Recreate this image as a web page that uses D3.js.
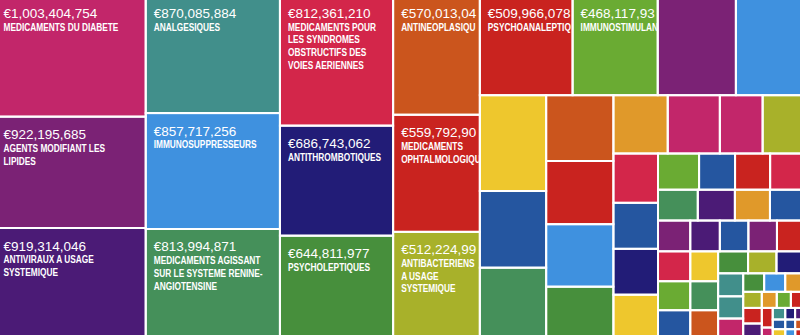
<!DOCTYPE html>
<html>
<head>
<meta charset="utf-8">
<script src="https://cdn.jsdelivr.net/npm/d3@7"></script>
<style>
html,body{margin:0;padding:0;background:#fff;overflow:hidden}
svg{display:block}
.val{font-family:"Liberation Sans",Arial,sans-serif;font-size:13.5px;fill:#fff}
.nm{font-family:"Liberation Sans",Arial,sans-serif;font-weight:bold;font-size:10.8px;fill:#fff}
</style>
</head>
<body>
<svg id="chart" width="800" height="335"></svg>
<script>
// ---- data ----
const names = [
  "MEDICAMENTS DU DIABETE",
  "AGENTS MODIFIANT LES LIPIDES",
  "ANTIVIRAUX A USAGE SYSTEMIQUE",
  "ANALGESIQUES",
  "IMMUNOSUPPRESSEURS",
  "MEDICAMENTS AGISSANT SUR LE SYSTEME RENINE-ANGIOTENSINE",
  "MEDICAMENTS POUR LES SYNDROMES OBSTRUCTIFS DES VOIES AERIENNES",
  "ANTITHROMBOTIQUES",
  "PSYCHOLEPTIQUES",
  "ANTINEOPLASIQUES",
  "MEDICAMENTS OPHTALMOLOGIQUES",
  "ANTIBACTERIENS A USAGE SYSTEMIQUE",
  "PSYCHOANALEPTIQUES",
  "IMMUNOSTIMULANTS",
  "","","","","","","","","","","","","","","","","","","","","","","","","","","","","","","",
  "","","","","","","","","","","","","","","","","","","","","","","","","","","","","","",""
];
const values = [
  1003404754, 922195685, 919314046, 870085884, 857717256, 813994871,
  812361210, 686743062, 644811977, 570013045, 559792905, 512224995,
  509966078, 468117935, 429600000, 377300000,
  350400000, 280500000, 260800000,
  243900000, 234300000, 231700000, 193900000,
  174600000, 167500000, 137500000, 134600000,
  121200000, 113100000, 112800000, 108900000,
  82000000, 71800000, 70000000, 68600000,
  67600000, 63000000, 59600000, 58700000,
  54800000, 50200000, 48500000, 48500000, 46800000,
  53200000, 51600000, 51200000,
  45900000, 44500000, 44200000,
  36300000, 34400000, 34000000,
  31800000, 30700000, 28300000,
  21400000, 21500000, 19700000,
  16500000, 13300000, 12500000, 12100000,
  16000000, 15900000,
  11800000, 6900000,
  8000000, 6300000, 6000000,
  6700000, 5300000, 5000000,
  6800000, 5400000, 5000000
];
const colorKeys = [
  "pink","purple","dpurple","teal","lblue","green","rpink","navy","dgreen","orange","red","olive",
  "red","lgreen","purple","lblue",
  "yellow","blue","green",
  "orange","red","lblue","dgreen",
  "amber","pink","pink","olive",
  "rpink","blue","navy","yellow",
  "lgreen","blue","red","rpink",
  "green","dpurple","amber","blue",
  "purple","dpurple","blue","purple","red",
  "rpink","lgreen","blue",
  "yellow","green","orange",
  "dgreen","olive","navy",
  "teal","teal","pink",
  "dgreen","lblue","amber",
  "olive","amber","lgreen","red",
  "red","dpurple",
  "red","pink",
  "teal","navy","dpurple",
  "blue","blue","orange",
  "yellow","lblue","red"
];
const palette = {
  pink:"#c2266a", purple:"#7b2275", dpurple:"#4b1b76", teal:"#418f8b", lblue:"#3f91df",
  green:"#45905a", rpink:"#d3264a", navy:"#221c77", dgreen:"#478f3c", orange:"#cb551d",
  red:"#c9231f", olive:"#a8b12a", lgreen:"#6aab33", yellow:"#eec72d", blue:"#2556a0",
  amber:"#e0992a"
};
// tiling structure: direction ('v' = column at left, 'h' = row at top) and item count per strip
const rowSpec = [["v",3],["v",3],["v",3],["v",3],["h",4],["v",3],["v",4],["h",4],["v",4],["h",4],["h",4],["h",5],
  ["v",3],["v",3],["h",3],["v",3],["h",3],["h",4],["v",2],["v",2],["h",3],["h",3],["h",3]];

// ---- layout ----
const frame = {x:-4.5, y:-4.5, w:809, h:343.5};
const NAME_SCALE = 0.77;

function specTile(parent, x0, y0, x1, y1) {
  const nodes = parent.children;
  let i = 0, value = parent.value;
  for (const [dir, n] of rowSpec) {
    if (i >= nodes.length) break;
    const kids = nodes.slice(i, i + n);
    const row = {children: kids, value: d3.sum(kids, d => d.value)};
    const last = i + n >= nodes.length;
    if (dir === "h") {
      const y = last ? y1 : y0 + (y1 - y0) * row.value / value;
      d3.treemapDice(row, x0, y0, x1, y); y0 = y;
    } else {
      const x = last ? x1 : x0 + (x1 - x0) * row.value / value;
      d3.treemapSlice(row, x0, y0, x, y1); x0 = x;
    }
    value -= row.value; i += n;
  }
  if (i < nodes.length) {
    const rest = {children: nodes.slice(i), value: value};
    d3.treemapSquarify(rest, x0, y0, x1, y1);
  }
}

const data = {children: names.map((n, i) => ({name: n, value: values[i], color: palette[colorKeys[i]]}))};
const root = d3.hierarchy(data).sum(d => d.children ? 0 : d.value);
d3.treemap().size([frame.w, frame.h]).tile(specTile).round(false)(root);
const leaves = root.leaves();

const svg = d3.select("#chart");
const g = svg.append("g").attr("transform", `translate(${frame.x},${frame.y})`);

g.selectAll("rect.cell").data(leaves).join("rect").attr("class","cell")
  .attr("x", d => d.x0).attr("y", d => d.y0)
  .attr("width", d => d.x1 - d.x0).attr("height", d => d.y1 - d.y0)
  .attr("fill", d => d.data.color);
g.selectAll("rect.edge").data(leaves).join("rect").attr("class","edge")
  .attr("x", d => d.x0).attr("y", d => d.y0)
  .attr("width", d => d.x1 - d.x0).attr("height", d => d.y1 - d.y0)
  .attr("fill", "none").attr("stroke", "#fff").attr("stroke-width", 2);

// ---- labels ----
const fmt = d3.format(",");
const labeled = leaves.filter(d => d.data.name && (d.x1 - d.x0) >= 80 && (d.y1 - d.y0) >= 60);
const defs = svg.append("defs");

function fit(sel, str, avail, scale) {
  sel.text(str);
  while (str.length > 1 && sel.node().getComputedTextLength() * scale > avail) {
    str = str.slice(0, -1);
    sel.text(str);
  }
}

labeled.forEach((d, i) => {
  defs.append("clipPath").attr("id", "clip" + i).append("rect")
    .attr("x", d.x0 + 1).attr("y", d.y0 + 1)
    .attr("width", d.x1 - d.x0 - 2).attr("height", d.y1 - d.y0 - 2);
  const lg = g.append("g").attr("clip-path", `url(#clip${i})`);
  const tx = d.x0 + 8;
  const avail = d.x1 - tx + 1;
  const vt = lg.append("text").attr("class","val").attr("x", tx).attr("y", d.y0 + 22.5);
  fit(vt, "€" + fmt(d.data.value), avail, 1);
  // wrap name (break at spaces and after hyphens)
  const tokens = [];
  d.data.name.split(" ").forEach(w => {
    w.split(/(?<=-)/).forEach((p, j) => tokens.push({t: p, sp: j === 0}));
  });
  const maxW = d.x1 - d.x0 - 18;
  const probe = lg.append("text").attr("class","nm").attr("x", -1000).attr("y", -1000);
  const lines = [];
  let cur = "";
  tokens.forEach(tok => {
    const cand = cur === "" ? tok.t : cur + (tok.sp ? " " : "") + tok.t;
    probe.text(cand);
    if (cur !== "" && probe.node().getComputedTextLength() * NAME_SCALE > maxW) {
      lines.push(cur); cur = tok.t;
    } else cur = cand;
  });
  if (cur) lines.push(cur);
  probe.remove();
  lines.forEach((ln, k) => {
    const t = lg.append("text").attr("class","nm")
      .attr("transform", `translate(${tx},${d.y0 + 22.5 + 12.7 * (k + 1)}) scale(${NAME_SCALE},1)`);
    fit(t, ln, avail, NAME_SCALE);
  });
});
</script>
</body>
</html>
